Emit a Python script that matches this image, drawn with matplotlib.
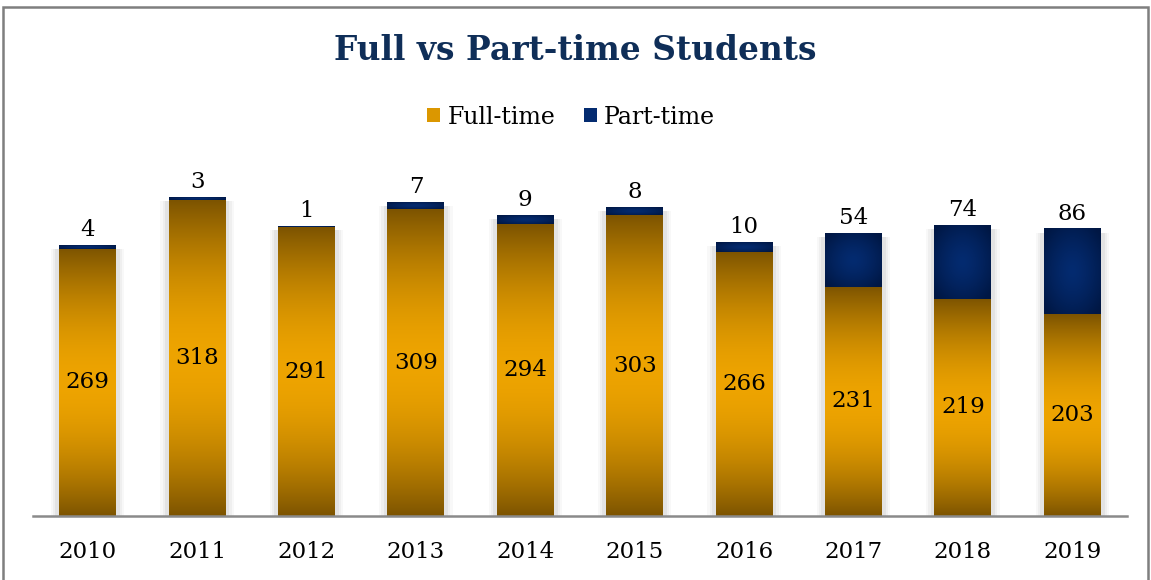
import numpy as np
import matplotlib
matplotlib.use("Agg")
from matplotlib import pyplot as plt
from matplotlib.patches import Rectangle, Patch

YEARS = ["2010", "2011", "2012", "2013", "2014", "2015", "2016", "2017", "2018", "2019"]
FULL_TIME = [269, 318, 291, 309, 294, 303, 266, 231, 219, 203]
PART_TIME = [4, 3, 1, 7, 9, 8, 10, 54, 74, 86]

GOLD_DARK = np.array([0x7d, 0x54, 0x00]) / 255
GOLD_LIGHT = np.array([0xee, 0xa4, 0x00]) / 255
NAVY_DARK = np.array([0x00, 0x17, 0x44]) / 255
NAVY_LIGHT = np.array([0x04, 0x2b, 0x70]) / 255
TITLE_COLOR = "#0f2e58"

BAR_WIDTH = 0.52

plt.rcParams["font.family"] = ["DejaVu Serif"]

fig = plt.figure(figsize=(11.51, 5.80), dpi=100)
ax = fig.add_axes([33 / 1151, 64 / 580, 1094 / 1151, 366 / 580])


def gold_gradient(n=200):
    t = np.linspace(0, 1, n)
    f = 1 - np.abs(2 * t - 1) ** 1.8
    img = GOLD_DARK[None, :] + (GOLD_LIGHT - GOLD_DARK)[None, :] * f[:, None]
    return img[:, None, :]


def navy_gradient(n=80):
    yy, xx = np.mgrid[-1:1:n * 1j, -1:1:n * 1j]
    r = np.clip(np.sqrt(xx ** 2 + yy ** 2) / 1.3, 0, 1)
    f = 1 - r ** 1.4
    return NAVY_DARK + (NAVY_LIGHT - NAVY_DARK) * f[:, :, None]


x = np.arange(len(YEARS))
# soft shadow around each bar
for xi, ft, pt in zip(x, FULL_TIME, PART_TIME):
    top = ft + pt
    for k, a in [(0.075, 0.05), (0.055, 0.07), (0.035, 0.1)]:
        ax.add_patch(Rectangle((xi - BAR_WIDTH / 2 - k, 0), BAR_WIDTH + 2 * k, top - 4,
                               facecolor="#7a7a7a", edgecolor="none", alpha=a, zorder=1))

for xi, ft, pt in zip(x, FULL_TIME, PART_TIME):
    x0, x1 = xi - BAR_WIDTH / 2, xi + BAR_WIDTH / 2
    ax.imshow(gold_gradient(), extent=[x0, x1, 0, ft], aspect="auto",
              interpolation="bilinear", origin="upper", zorder=2)
    ax.imshow(navy_gradient(), extent=[x0, x1, ft, ft + pt], aspect="auto",
              interpolation="bilinear", origin="upper", zorder=2)
    ax.text(xi, ft / 2, str(ft), ha="center", va="center", fontsize=16.5,
            color="black", zorder=3)
    ax.annotate(str(pt), (xi, ft + pt), xytext=(0, 3), textcoords="offset points",
                ha="center", va="bottom", fontsize=16.5, color="black", zorder=3)

ax.set_xlim(-0.5, len(YEARS) - 0.5)
ax.set_ylim(0, 368.6)
ax.set_xticks(x)
ax.set_xticklabels(YEARS, fontsize=16.5)
ax.tick_params(axis="x", length=0, pad=18)
ax.set_yticks([])
for side in ["top", "right", "left"]:
    ax.spines[side].set_visible(False)
ax.spines["bottom"].set_color("#8a8a8a")
ax.spines["bottom"].set_linewidth(1.8)
ax.spines["bottom"].set_zorder(4)

fig.text(0.5, 1 - 51 / 580, "Full vs Part-time Students", ha="center", va="center",
         fontsize=23.7, fontweight="bold", color=TITLE_COLOR)

handles = [Patch(facecolor=GOLD_LIGHT * 0.92, edgecolor="none", label="Full-time"),
           Patch(facecolor=NAVY_LIGHT, edgecolor="none", label="Part-time")]
fig.legend(handles=handles, loc="center", bbox_to_anchor=(571 / 1151, 1 - 117 / 580), ncol=2,
           frameon=False, fontsize=17, handlelength=0.55, handleheight=0.55,
           handletextpad=0.3, columnspacing=1.2)

fig.patches.append(Rectangle((3 / 1151, -0.05), 1145 / 1151, 1 - 7 / 580 + 0.05,
                             transform=fig.transFigure, fill=False,
                             edgecolor="#7f7f7f", linewidth=1.8))

fig.savefig("out.png", dpi=100)
